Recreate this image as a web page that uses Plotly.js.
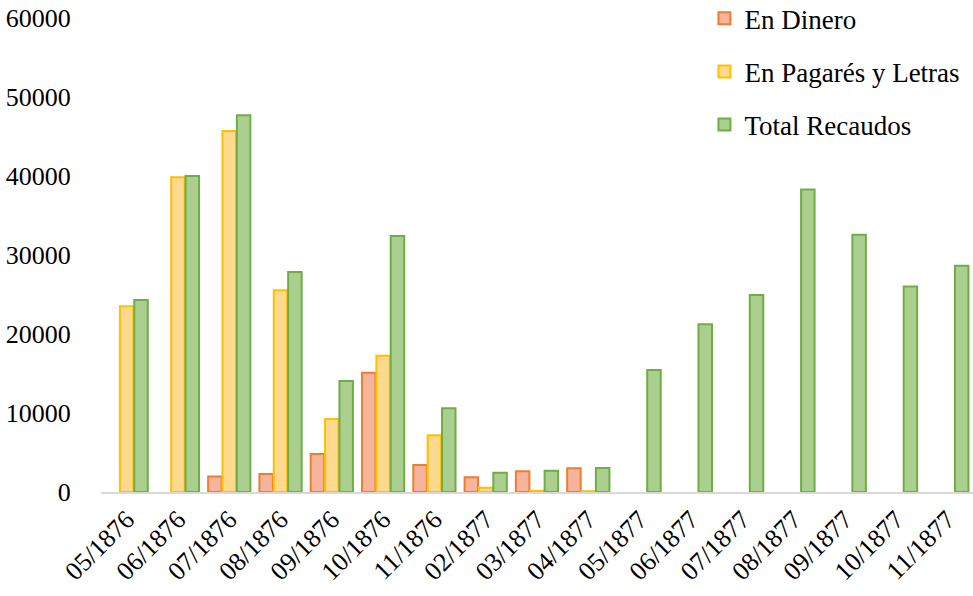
<!DOCTYPE html>
<html>
<head>
<meta charset="utf-8">
<script src="https://cdn.plot.ly/plotly-3.0.1.min.js"></script>
<style>html,body{margin:0;padding:0;background:#fff;}#chart{width:973px;height:596px;}</style>
</head>
<body>
<div id="chart"></div>
<script>
const categories = ["05/1876","06/1876","07/1876","08/1876","09/1876","10/1876","11/1876","02/1877","03/1877","04/1877","05/1877","06/1877","07/1877","08/1877","09/1877","10/1877","11/1877"];
const enDinero = [null, null, 1950, 2280, 4800, 15100, 3420, 1860, 2620, 3000, null, null, null, null, null, null, null];
const enPagares = [23500, 39850, 45700, 25550, 9250, 17250, 7170, 550, 150, 100, null, null, null, null, null, null, null];
const totalRecaudos = [24300, 40000, 47700, 27850, 14050, 32400, 10600, 2450, 2700, 3040, 15450, 21250, 24950, 38300, 32550, 26000, 28650];
const yTicks = [0, 10000, 20000, 30000, 40000, 50000, 60000];

const fontFam = '"Liberation Serif", "Times New Roman", serif';
const traces = [
  {name: 'En Dinero', y: enDinero, fill: '#F6B59B', line: '#ED7D31'},
  {name: 'En Pagarés y Letras', y: enPagares, fill: '#FFD98E', line: '#FFC000'},
  {name: 'Total Recaudos', y: totalRecaudos, fill: '#AACF8E', line: '#70AD47'}
].map((s, i) => ({
  type: 'bar', x: categories, y: s.y, name: s.name, legendgroup: 'g' + i,
  marker: {color: s.fill, line: {color: s.line, width: 2}},
  hoverinfo: 'skip'
}));

const layout = {
  width: 973, height: 596,
  margin: {l: 101, r: 0, t: 18, b: 104, autoexpand: false},
  paper_bgcolor: '#fff', plot_bgcolor: '#fff',
  font: {family: fontFam, size: 26, color: '#000'},
  barmode: 'group', bargap: 0.16, bargroupgap: 0.06,
  showlegend: true,
  legend: {x: 0.692, y: 1.050, xanchor: 'left', yanchor: 'top', tracegroupgap: 15,
    traceorder: 'grouped', font: {family: fontFam, size: 27, color: '#000'}, bgcolor: 'rgba(0,0,0,0)'},
  xaxis: {type: 'category', tickangle: -45, showgrid: false, zeroline: false,
    showline: true, linecolor: '#D9D9D9', linewidth: 2, ticks: '',
    tickfont: {family: fontFam, size: 26, color: '#000'}},
  yaxis: {range: [0, 60000], tickvals: yTicks, ticktext: yTicks.map(String),
    showgrid: false, zeroline: false, showline: false,
    ticks: 'outside', ticklen: 24, tickcolor: 'rgba(0,0,0,0)',
    tickfont: {family: fontFam, size: 26, color: '#000'}}
};
Plotly.newPlot('chart', traces, layout, {staticPlot: true, displayModeBar: false});
</script>
</body>
</html>
